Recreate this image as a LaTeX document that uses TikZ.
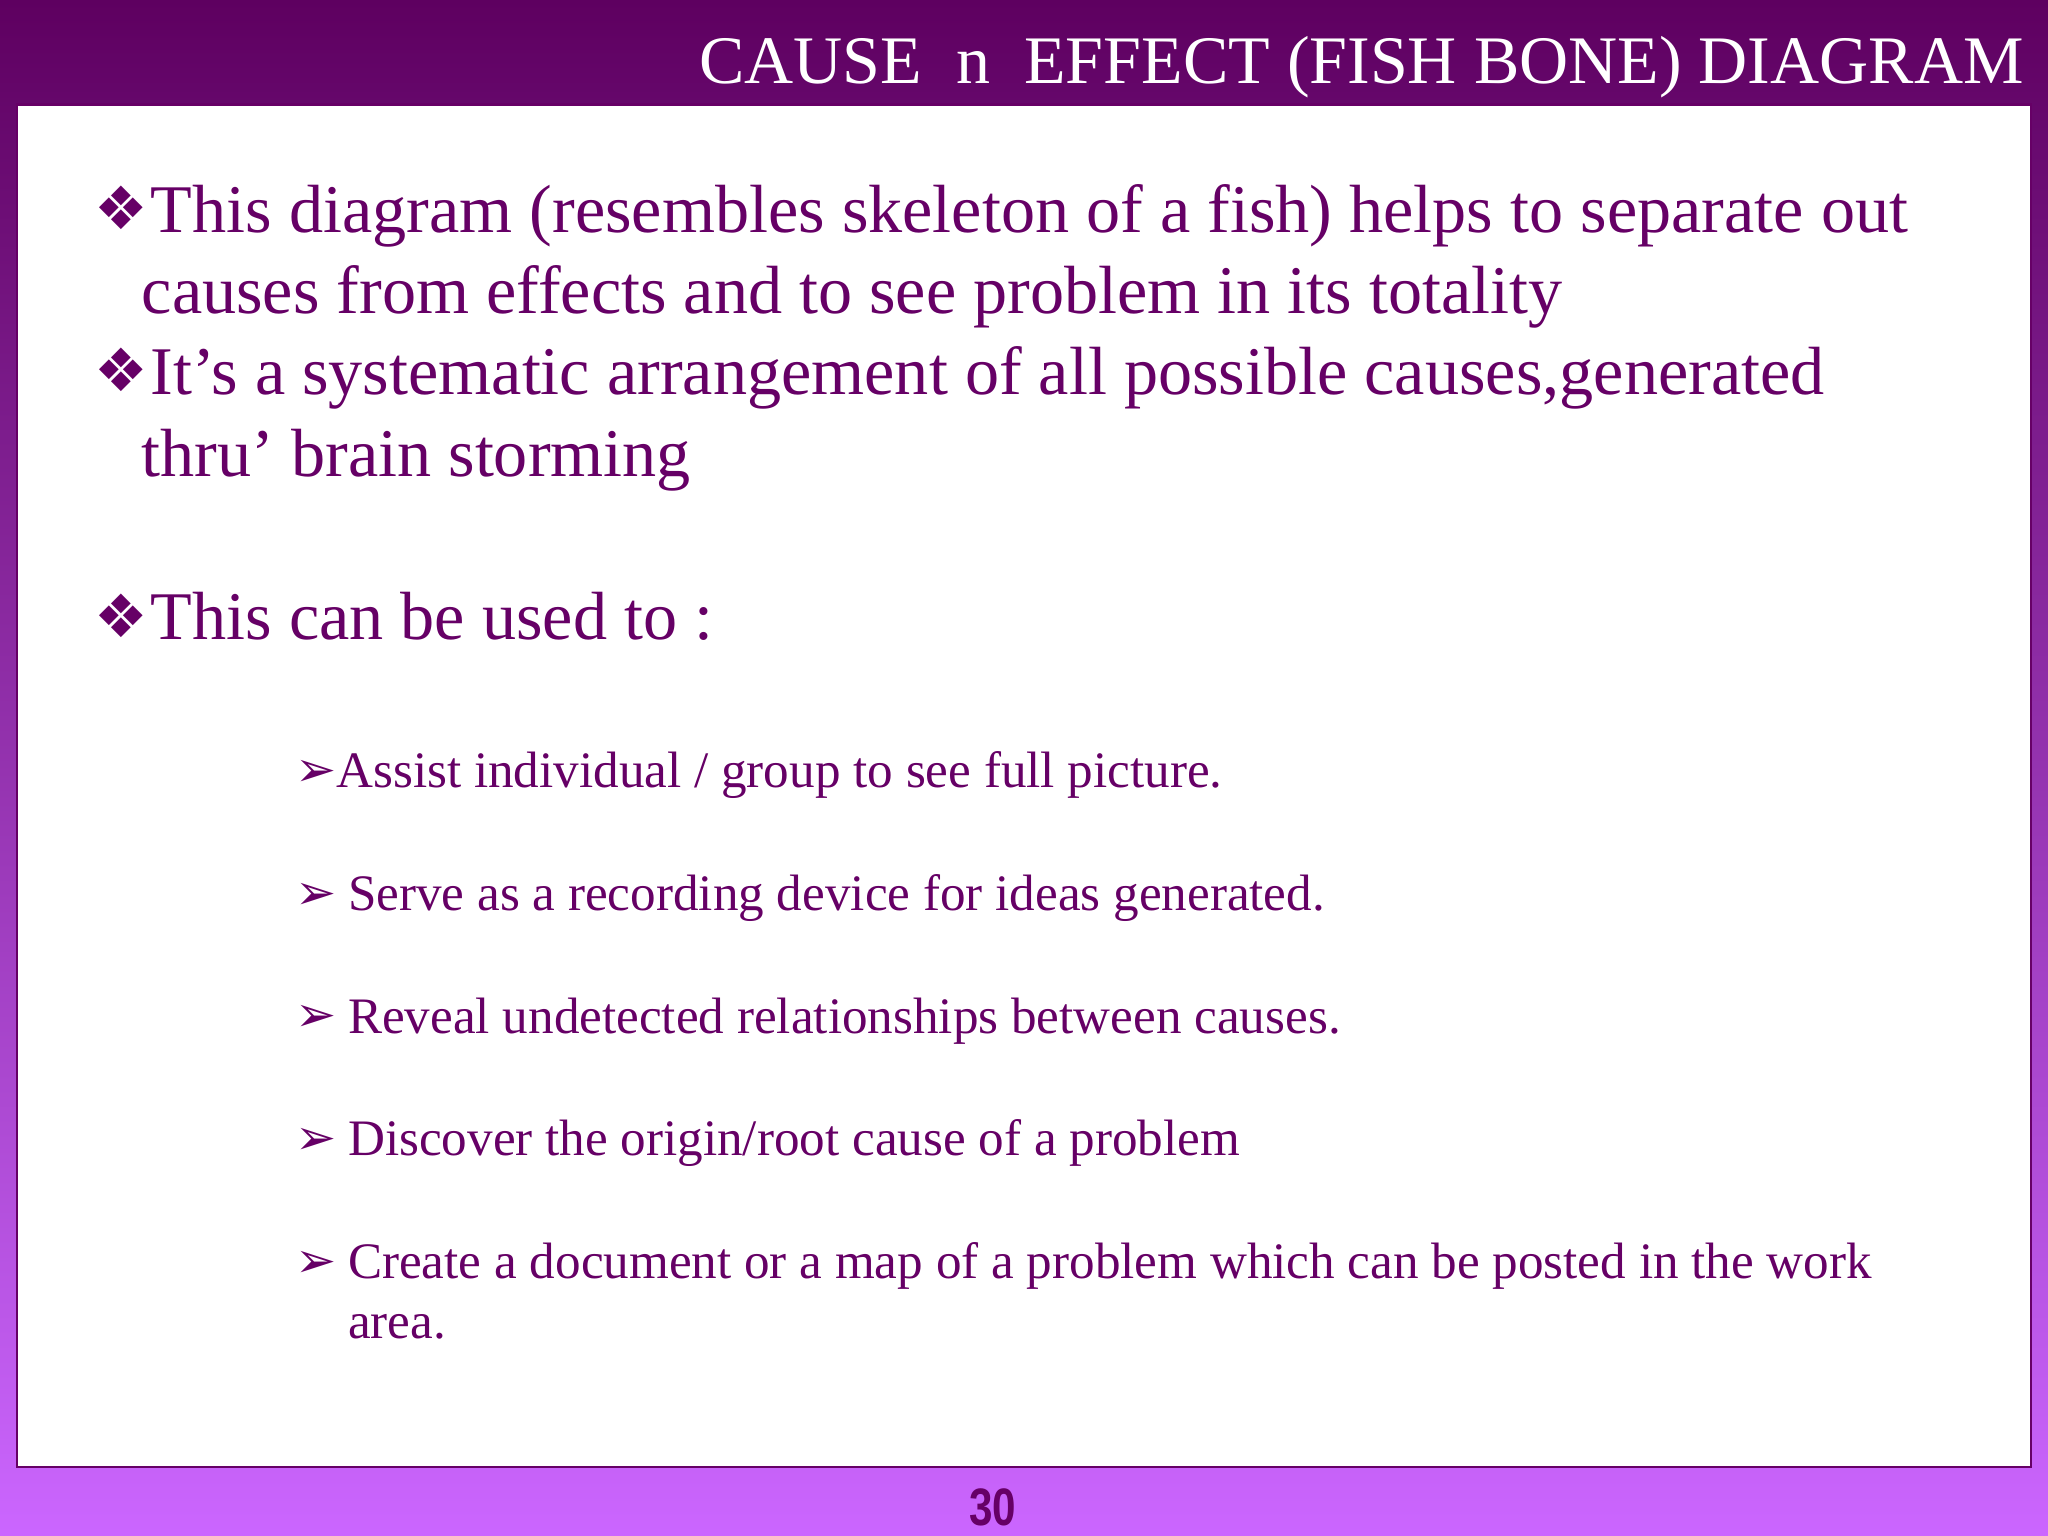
\documentclass[tikz,border=0pt]{standalone}
\usepackage{fontspec}
\setmainfont{Liberation Serif}
\newfontfamily\djvfont{DejaVu Sans}
\newfontfamily\numfont{Liberation Sans}
\definecolor{dp}{HTML}{660066}
\definecolor{topc}{HTML}{5E0060}
\definecolor{botc}{HTML}{CB66FF}
\begin{document}
\begin{tikzpicture}[x=0.013061cm,y=-0.013061cm,
  big/.style={anchor=base west,inner sep=0,text=dp,font=\fontsize{19.4}{22}\selectfont},
  sub/.style={anchor=base west,inner sep=0,text=dp,font=\fontsize{14.55}{16}\selectfont},
  dia/.style={anchor=base west,inner sep=0,text=dp,font=\djvfont\fontsize{17}{19}\selectfont},
  arr/.style={anchor=base west,inner sep=0,text=dp,font=\djvfont\fontsize{14}{16}\selectfont}]
\shade[top color=topc,bottom color=botc] (0,0) rectangle (1568,1176);
\useasboundingbox (0,0) rectangle (1568,1176);
\draw[fill=white,draw=dp,line width=0.6pt] (13,80) rectangle (1555,1123);
\node[anchor=base east,inner sep=0,text=white,font=\fontsize{19.35}{22}\selectfont] (title) at (1550,64) {CAUSE\ \ n\ \ EFFECT (FISH BONE) DIAGRAM};
\node[dia] (d1) at (72,176) {❖};
\node[big] (t1) at (115,178) {This diagram (resembles skeleton of a fish) helps to separate out};
\node[big] (t1b) at (108,240) {causes from effects and to see problem in its totality};
\node[dia] (d2) at (72,300) {❖};
\node[big] (t2) at (115,302) {It’s a systematic arrangement of all possible causes,generated};
\node[big] (t2b) at (108,365) {thru’ brain storming};
\node[dia] (d3) at (72,488) {❖};
\node[big] (t3) at (115,490) {This can be used to :};
\node[arr] (a1) at (226,602) {➢};
\node[sub] (s1) at (257,603) {Assist individual / group to see full picture.};
\node[arr] (a2) at (226,696) {➢};
\node[sub] (s2) at (266,697) {Serve as a recording device for ideas generated.};
\node[arr] (a3) at (226,790) {➢};
\node[sub] (s3) at (266,791) {Reveal undetected relationships between causes.};
\node[arr] (a4) at (226,884) {➢};
\node[sub] (s4) at (266,885) {Discover the origin/root cause of a problem};
\node[arr] (a5) at (226,978) {➢};
\node[sub] (s5) at (266,979) {Create a document or a map of a problem which can be posted in the work};
\node[sub] (s5b) at (266,1025) {area.};
\node[anchor=base,inner sep=0,text=dp,font=\numfont\bfseries\fontsize{15}{17}\selectfont,xscale=0.8] (pg) at (760,1168) {30};
\end{tikzpicture}
\end{document}
